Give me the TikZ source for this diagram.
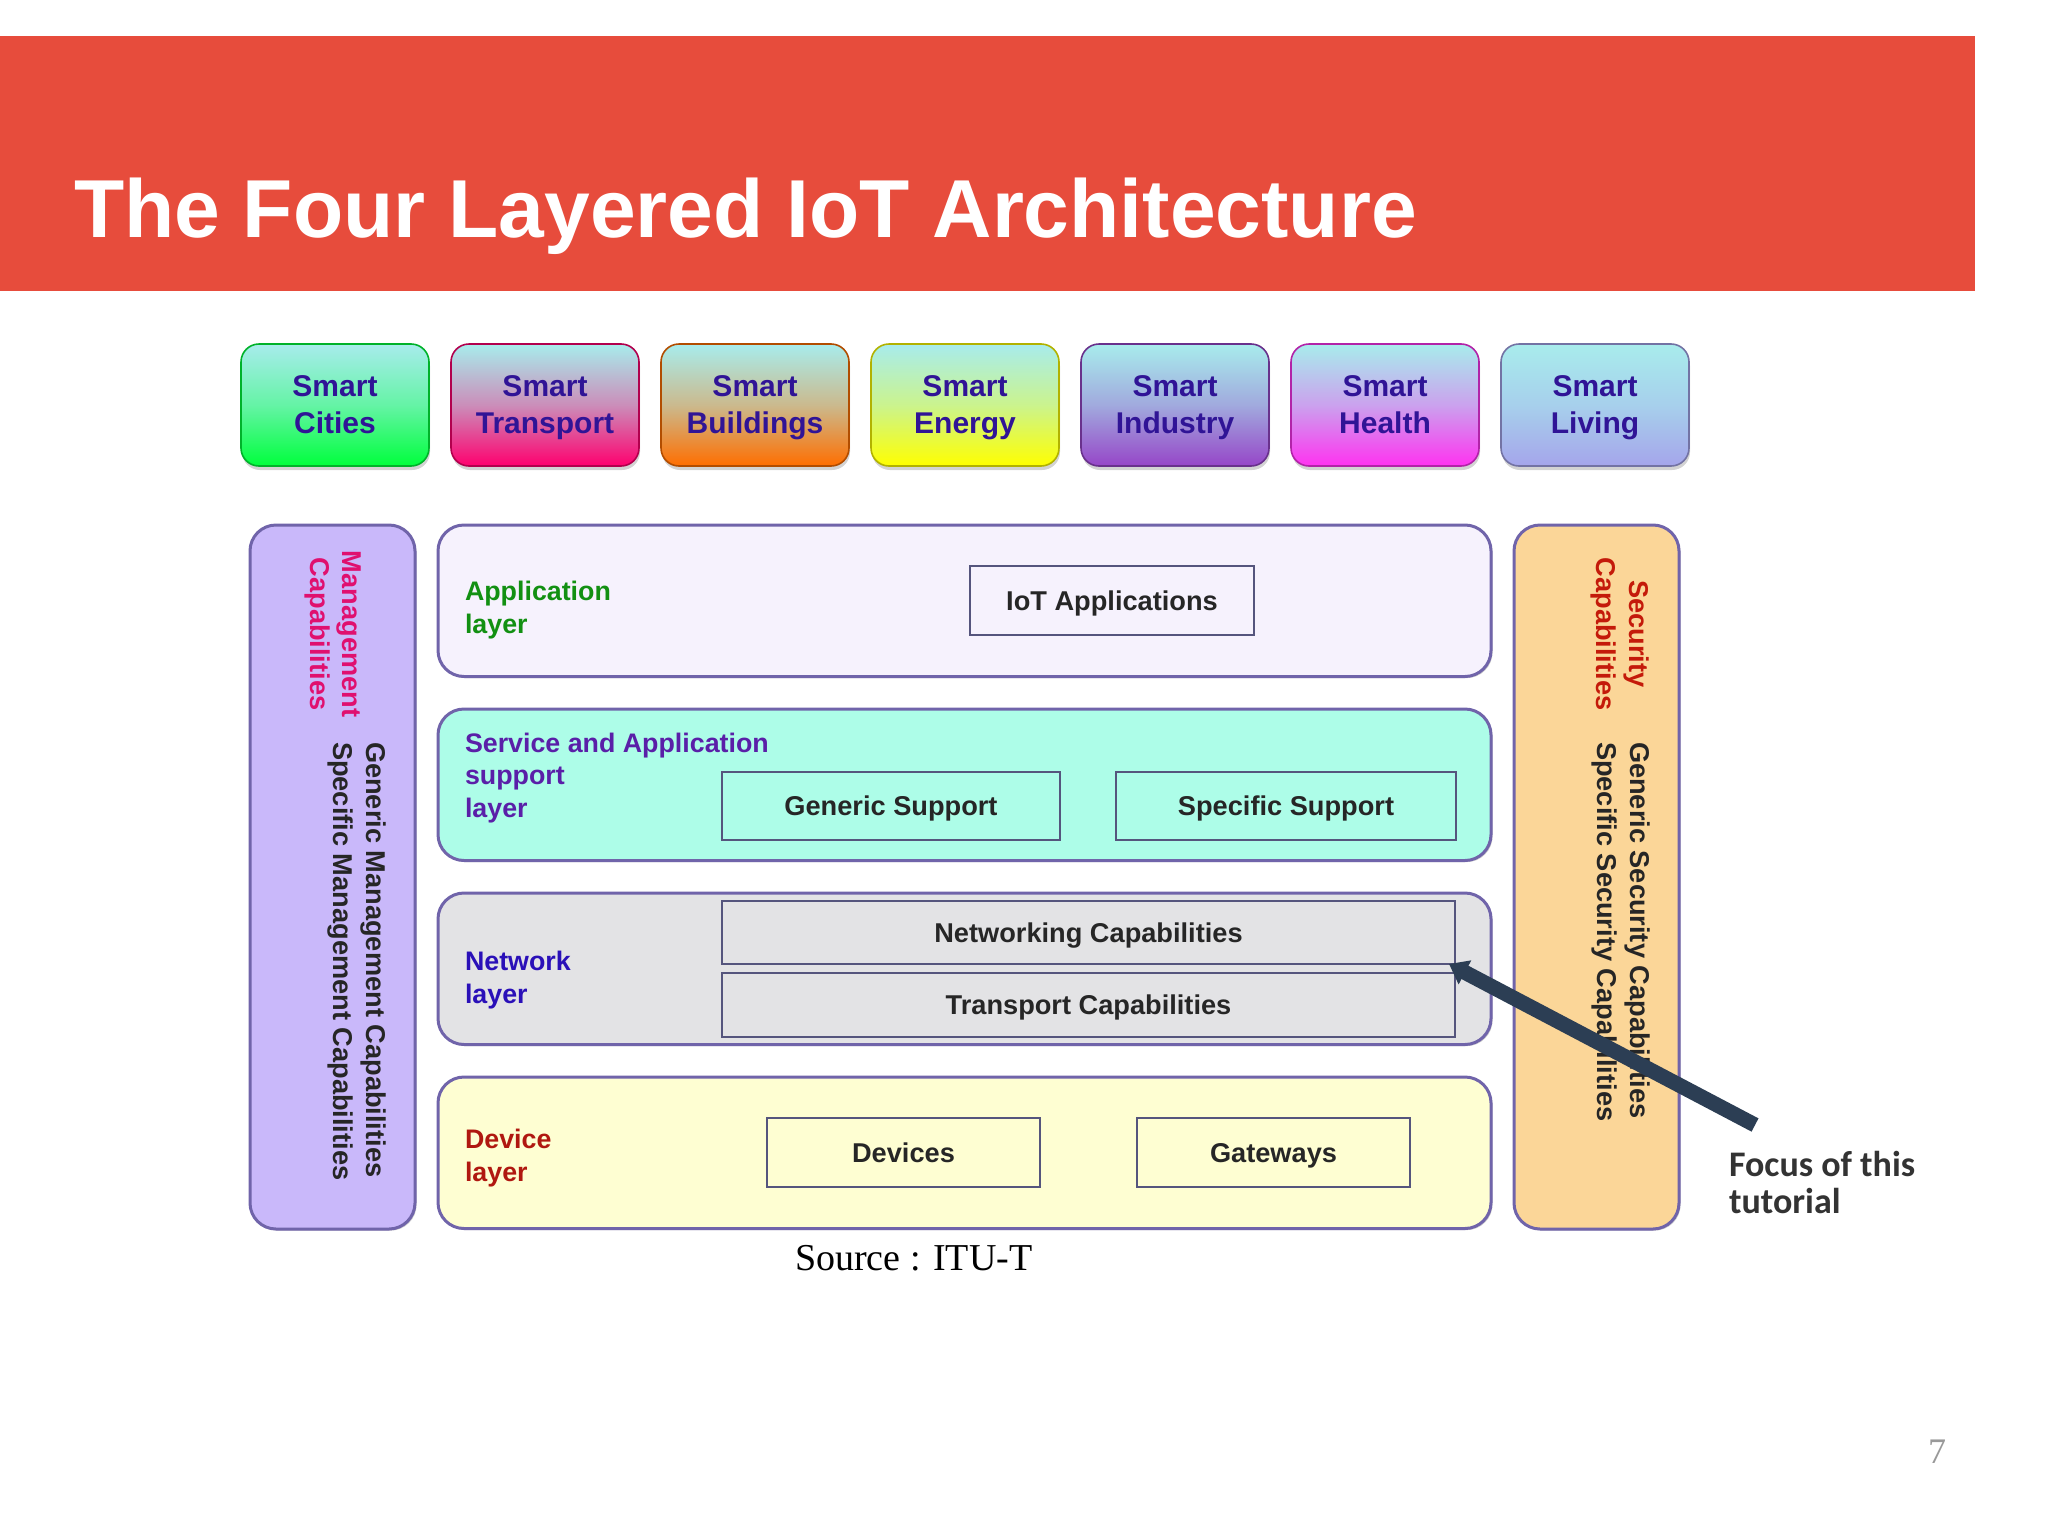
\documentclass[tikz,border=0pt]{standalone}
\usepackage{fontspec}
\setmainfont{Liberation Sans}
\newfontfamily\notefont{Carlito}
\newfontfamily\sourcefont{Liberation Serif}
\usetikzlibrary{shapes,arrows.meta,positioning,shadows}

\definecolor{smarttop}{RGB}{168,236,236}
\definecolor{smarttext}{RGB}{48,20,150}
\definecolor{smartgreen}{RGB}{0,255,60}
\definecolor{smartpink}{RGB}{255,0,110}
\definecolor{smartorange}{RGB}{255,110,0}
\definecolor{smartyellow}{RGB}{255,255,0}
\definecolor{smartviolet}{RGB}{150,70,200}
\definecolor{smartmagenta}{RGB}{255,50,240}
\definecolor{smartlilac}{RGB}{165,165,235}
\definecolor{layerline}{RGB}{112,100,170}
\definecolor{innerline}{RGB}{85,85,125}
\definecolor{arrowblue}{RGB}{44,62,84}

\begin{document}
\begin{tikzpicture}[x=0.5pt, y=-0.5pt, node distance=11pt, inner sep=0pt, outer sep=0pt]
    % Styles
    \tikzstyle{smart_box} = [rectangle, rounded corners=9pt, minimum width=94pt, minimum height=61pt, top color=smarttop, bottom color=#1, middle color=#1!40!smarttop, draw=#1!70!black, align=center, text=smarttext, text depth=0pt, font=\fontsize{15}{18.5}\selectfont\bfseries, line width=0.8pt, drop shadow={shadow xshift=0.5pt, shadow yshift=-2pt, opacity=0.35}]
    \tikzstyle{layer_box} = [rectangle, draw=layerline, rounded corners=13pt, minimum width=526.5pt, minimum height=75.75pt, line width=1.5pt, drop shadow={shadow xshift=0.8pt, shadow yshift=-0.8pt, opacity=0.4}]
    \tikzstyle{side_box} = [layer_box, minimum width=82.5pt, minimum height=352pt]
    \tikzstyle{inner_box} = [rectangle, draw=innerline, line width=1pt, text depth=0pt, font=\fontsize{13.6}{16}\selectfont\bfseries, text=black!85]
    \tikzstyle{layer_label} = [anchor=west, align=left, font=\fontsize{13.4}{16.2}\selectfont\bfseries]
    \tikzstyle{side_label} = [rotate=-90, align=left, font=\fontsize{13.6}{16.3}\selectfont\bfseries]
    \tikzstyle{arrow} = [-{Triangle[length=9pt, width=13pt]}, line width=7.5pt, draw=arrowblue]

    % Title banner
    \node [rectangle, fill={rgb,255:red,231;green,76;blue,60}, minimum width=987.5pt, minimum height=127.5pt, anchor=north west] (banner) at (0,36) {};
    \node [anchor=base west, text=white, font=\fontsize{41.1}{46}\selectfont\bfseries] (title) at (74,237) {The Four Layered IoT Architecture};

    % Smart boxes
    \node [smart_box=smartgreen, anchor=north west] (cities) at (241,344) {Smart\\Cities};
    \node [smart_box=smartpink, right=of cities] (transport) {Smart\\Transport};
    \node [smart_box=smartorange, right=of transport] (buildings) {Smart\\Buildings};
    \node [smart_box=smartyellow, right=of buildings] (energy) {Smart\\Energy};
    \node [smart_box=smartviolet, right=of energy] (industry) {Smart\\Industry};
    \node [smart_box=smartmagenta, right=of industry] (health) {Smart\\Health};
    \node [smart_box=smartlilac, right=of health] (living) {Smart\\Living};

    % Layers
    \node [layer_box, fill={rgb,255:red,246;green,242;blue,253}, anchor=north west] (application) at (438,525) {};
    \node [layer_box, fill={rgb,255:red,173;green,253;blue,232}, below=16.25pt of application] (service) {};
    \node [layer_box, fill={rgb,255:red,227;green,227;blue,229}, below=16.25pt of service] (network) {};
    \node [layer_box, fill={rgb,255:red,254;green,254;blue,210}, below=16.25pt of network] (device) {};

    % Side columns
    \node [side_box, fill={rgb,255:red,201;green,184;blue,250}, anchor=north east] (management) at (415,525) {};
    \node [side_box, fill={rgb,255:red,251;green,214;blue,152}, anchor=north west] (security) at (1514,525) {};

    % Layer labels
    \node [layer_label, text={rgb,255:red,18;green,144;blue,18}] (applabel) at (465,610) {Application\\layer};
    \node [layer_label, text={rgb,255:red,90;green,31;blue,168}] (servicelabel) at (465,778) {Service and Application\\support\\layer};
    \node [layer_label, text={rgb,255:red,42;green,16;blue,184}] (netlabel) at (465,980) {Network\\layer};
    \node [layer_label, text={rgb,255:red,176;green,24;blue,16}] (devlabel) at (465,1158) {Device\\layer};

    % Inner boxes
    \node [inner_box, minimum width=142pt, minimum height=34.5pt, anchor=north west] (iotapps) at (970,566) {IoT Applications};
    \node [inner_box, minimum width=169pt, minimum height=34pt, anchor=north west] (generic) at (722,772) {Generic Support};
    \node [inner_box, minimum width=170pt, minimum height=34pt, right=28pt of generic] (specific) {Specific Support};
    \node [inner_box, minimum width=366.5pt, minimum height=31.5pt, anchor=north west] (netcap) at (722,901) {Networking Capabilities};
    \node [inner_box, minimum width=366.5pt, minimum height=32pt, below=4.5pt of netcap] (transcap) {Transport Capabilities};
    \node [inner_box, minimum width=136.5pt, minimum height=34.5pt, anchor=north west] (devices) at (767,1118) {Devices};
    \node [inner_box, minimum width=136.5pt, minimum height=34.5pt, right=48.5pt of devices] (gateways) {Gateways};

    % Side labels
    \node [side_label, align=center, text={rgb,255:red,224;green,16;blue,111}] (mgmtlabel) at (333,634) {Management\\Capabilities};
    \node [side_label, anchor=west, text=black!85] (mgmtcaps) at (357,742) {Generic Management Capabilities\\Specific Management Capabilities};
    \node [side_label, align=center, text={rgb,255:red,196;green,26;blue,10}] (seclabel) at (1620,634) {Security\\Capabilities};
    \node [side_label, anchor=west, text=black!85] (seccaps) at (1621,742) {Generic Security Capabilities\\Specific Security Capabilities};

    % Source and page number
    \node [anchor=base west, font=\sourcefont\fontsize{19}{22}\selectfont, text=black] (source) at (795,1270) {Source : ITU-T};
    \node [font=\sourcefont\fontsize{18}{20}\selectfont, text=black!40] (pagenum) at (1937,1452) {7};

    % Focus note
    \node [anchor=north west, align=left, text=black!80, font=\notefont\fontsize{18}{18.5}\selectfont\bfseries] (focus) at (1729,1151) {Focus of this\\tutorial};
    \coordinate (tail) at (1755,1125);
    \draw [arrow] (tail) -- ([xshift=-3pt]netcap.south east);

    \useasboundingbox (0,0) rectangle (2048,1536);
\end{tikzpicture}
\end{document}
